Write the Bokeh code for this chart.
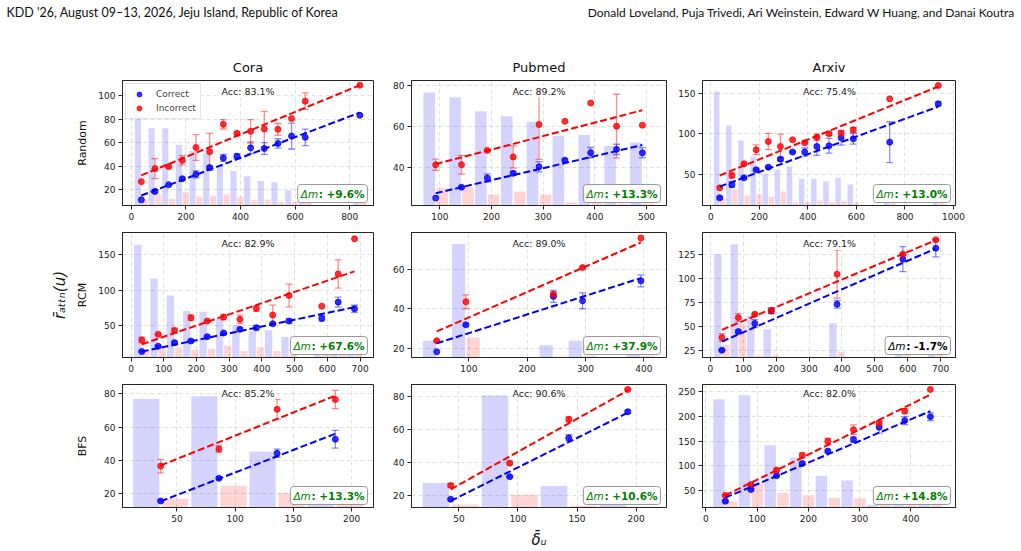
from bokeh.plotting import figure
from bokeh.layouts import column, row
from bokeh.models import Range1d, FixedTicker, Label, Legend, LegendItem, LinearAxis
from bokeh.embed import file_html
from bokeh.resources import INLINE

FONT = "DejaVu Sans"
HEAD_FONT = "Lato"
BIN_W = 50

HEADER_LEFT = "KDD '26, August 09\u201313, 2026, Jeju Island, Republic of Korea"
HEADER_RIGHT = "Donald Loveland, Puja Trivedi, Ari Weinstein, Edward W Huang, and Danai Koutra"
DATASETS = ["Cora", "Pubmed", "Arxiv"]
ORDERINGS = ["Random", "RCM", "BFS"]

# ---------------- Random ordering ----------------
cora_rand_bins = [37, 87, 137, 187, 237, 287, 337, 387, 437, 487, 537, 587, 637, 837]
cora_rand_corr = [11.4, 18.6, 24.3, 29.4, 33.1, 38.9, 47.1, 48.6, 55.7, 55.1, 59.4, 65.7, 64.6, 83.4]
cora_rand_corr_err = [0, 1.5, 0, 1, 3, 1, 3, 2, 5, 5, 4, 11, 7, 0]
cora_rand_inc = [26.9, 38.0, 39.7, 45.1, 56.0, 52.3, 75.7, 68.0, 69.7, 71.7, 71.4, 80.6, 95.4, 109.0]
cora_rand_inc_err = [0, 8.5, 1, 4, 11, 15.7, 4, 1, 10, 15, 5, 0, 7, 0]
cora_rand_corr_hist = [104, 72.3, 72.3, 58, 53, 51, 41, 36, 31.4, 27.4, 26.3, 19.4, 13, 9]
cora_rand_inc_hist = [12, 16, 12.5, 18, 14, 15, 16, 14, 11, 11.5, 10, 10, 9, 9]
cora_rand_corr_fit = [15.1, 85.7]
cora_rand_inc_fit = [32.3, 109.0]
cora_rand_acc = "83.1%"
cora_rand_dm = "+9.6%"
cora_rand_xticks = [0, 200, 400, 600, 800]
cora_rand_yticks = [20, 40, 60, 80, 100]

pubmed_rand_bins = [92, 142, 192, 242, 292, 342, 392, 442, 492]
pubmed_rand_corr = [25.2, 30.5, 35.0, 37.3, 40.5, 43.7, 47.4, 49.0, 47.3]
pubmed_rand_corr_err = [0, 0.5, 2, 1, 2.5, 0.8, 2.5, 2.5, 2.5]
pubmed_rand_inc = [41.5, 41.5, 48.5, 45.3, 61.1, 62.7, 71.6, 60.3, 60.8]
pubmed_rand_inc_err = [2.7, 4.6, 0.5, 5.4, 17, 0, 0, 15.6, 0]
pubmed_rand_corr_hist = [76.8, 74.4, 67.6, 65.2, 62.3, 55.5, 56.0, 50.6, 52.3]
pubmed_rand_inc_hist = [30.0, 30.5, 27.0, 28.4, 27.0, 23.2, 22.7, 22.4, 22.4]
pubmed_rand_corr_fit = [27.6, 51.1]
pubmed_rand_inc_fit = [41.8, 68.1]
pubmed_rand_acc = "89.2%"
pubmed_rand_dm = "+13.3%"
pubmed_rand_xticks = [100, 200, 300, 400, 500]
pubmed_rand_yticks = [40, 60, 80]

arxiv_rand_bins = [37, 87, 137, 187, 237, 287, 337, 387, 437, 487, 537, 587, 737, 937]
arxiv_rand_corr = [21.8, 37.8, 46.3, 56.1, 59.4, 69.2, 77.8, 77.8, 84.7, 85.5, 95.3, 94.1, 90.0, 136.9]
arxiv_rand_corr_err = [1.5, 3, 1, 1, 1, 2, 1, 5, 11, 9, 9, 6.5, 25, 2]
arxiv_rand_inc = [34.0, 49.2, 63.5, 80.6, 90.8, 84.7, 92.9, 89.2, 96.1, 100.2, 101.0, 105.1, 143.0, 159.4]
arxiv_rand_inc_err = [0, 3, 1, 6, 10, 15, 0, 1, 4, 2, 2, 3, 0, 0]
arxiv_rand_corr_hist = [152, 110.4, 92, 72.4, 51.2, 56.5, 60.2, 45.1, 45.1, 42.2, 46.3, 38.2, 16.5, 18.6]
arxiv_rand_inc_hist = [20.6, 32, 24.7, 26, 22.7, 29.6, 16.5, 16.5, 18.6, 16.5, 17.8, 16.5, 15.3, 15.3]
arxiv_rand_corr_fit = [35.7, 133.5]
arxiv_rand_inc_fit = [49.2, 158.2]
arxiv_rand_acc = "75.4%"
arxiv_rand_dm = "+13.0%"
arxiv_rand_xticks = [0, 200, 400, 600, 800, 1000]
arxiv_rand_yticks = [50, 100, 150]

# ---------------- RCM ordering ----------------
cora_rcm_bins = [33, 83, 133, 183, 233, 283, 333, 383, 433, 483, 583, 633, 683]
cora_rcm_corr = [13, 20.4, 25.6, 27.9, 34, 39.2, 44.4, 46.7, 52.3, 56.1, 59.9, 82.9, 73.5]
cora_rcm_corr_err = [1, 1, 1.5, 1, 1, 1, 2, 3, 1, 3, 4, 7, 5]
cora_rcm_inc = [29.3, 37.3, 42.9, 60.8, 56.1, 61.7, 58.5, 73.9, 64.6, 92.3, 77.2, 122.8, 172.5]
cora_rcm_inc_err = [4, 1, 3, 4, 1, 4, 6, 4, 14, 16, 0, 20, 0]
cora_rcm_corr_hist = [164, 116.2, 92.3, 70.2, 69.2, 59.9, 50.5, 42, 43, 33.6, 16.2, 13.8, 13.8]
cora_rcm_inc_hist = [13.8, 17, 18.5, 15.3, 16.7, 21, 13.8, 18.5, 13.8, 9.2, 9, 9, 9]
cora_rcm_corr_fit = [12.9, 75.8]
cora_rcm_inc_fit = [23.2, 126.5]
cora_rcm_acc = "82.9%"
cora_rcm_dm = "+67.6%"
cora_rcm_xticks = [0, 100, 200, 300, 400, 500, 600, 700]
cora_rcm_yticks = [50, 100, 150]

pubmed_rcm_bins = [45, 95, 245, 295, 395]
pubmed_rcm_corr = [18.5, 32, 46.3, 44.1, 54.1]
pubmed_rcm_corr_err = [0, 0.5, 3, 4, 3]
pubmed_rcm_inc = [24, 43.6, 47.4, 60.8, 75.6]
pubmed_rcm_inc_err = [0.5, 3.5, 1, 0.5, 0]
pubmed_rcm_corr_hist = [24, 72.6, 21.8, 24, 18]
pubmed_rcm_inc_hist = [16, 25.7, 16, 16.5, 16.5]
pubmed_rcm_corr_fit = [22.7, 55.5]
pubmed_rcm_inc_fit = [28.7, 73.4]
pubmed_rcm_acc = "89.0%"
pubmed_rcm_dm = "+37.9%"
pubmed_rcm_xticks = [100, 200, 300, 400]
pubmed_rcm_yticks = [20, 40, 60]

arxiv_rcm_bins = [35, 85, 135, 185, 385, 585, 685]
arxiv_rcm_corr = [25, 44.4, 52.8, 66, 72.9, 119.8, 131.3]
arxiv_rcm_corr_err = [1, 1.5, 4, 3, 4, 13, 9]
arxiv_rcm_inc = [38.2, 59, 62.5, 66, 104.2, 125, 140]
arxiv_rcm_inc_err = [4, 4, 1, 3, 25, 1, 1]
arxiv_rcm_corr_hist = [125, 135.4, 60.8, 46.9, 53.1, 20.8, 20.8]
arxiv_rcm_inc_hist = [30.6, 52.8, 19.8, 19.8, 23.3, 19.8, 19.8]
arxiv_rcm_corr_fit = [34.0, 130.9]
arxiv_rcm_inc_fit = [46.2, 139.6]
arxiv_rcm_acc = "79.1%"
arxiv_rcm_dm = "-1.7%"
arxiv_rcm_xticks = [0, 100, 200, 300, 400, 500, 600, 700]
arxiv_rcm_yticks = [25, 50, 75, 100, 125]

# ---------------- BFS ordering ----------------
cora_bfs_bins = [36, 86, 136, 186]
cora_bfs_corr = [15.7, 29.3, 44.3, 52.7]
cora_bfs_corr_err = [0.5, 0.5, 2.5, 5.3]
cora_bfs_inc = [36.6, 46.9, 70.6, 76.5]
cora_bfs_inc_err = [4, 2, 6, 5.5]
cora_bfs_corr_hist = [76.9, 78.4, 45.3, 24]
cora_bfs_inc_hist = [17.1, 24.9, 20.6, 16]
cora_bfs_corr_fit = [15.5, 56.0]
cora_bfs_inc_fit = [37.0, 78.8]
cora_bfs_acc = "85.2%"
cora_bfs_dm = "+13.3%"
cora_bfs_xticks = [50, 100, 150, 200]
cora_bfs_yticks = [20, 40, 60, 80]

pubmed_bfs_bins = [43, 93, 143, 193]
pubmed_bfs_corr = [17.8, 31.5, 55, 70.9]
pubmed_bfs_corr_err = [0.5, 0.5, 2, 1]
pubmed_bfs_inc = [26.2, 39.7, 66.3, 84.4]
pubmed_bfs_inc_err = [1, 1, 1.5, 0.5]
pubmed_bfs_corr_hist = [27.7, 80.8, 25.8, 19]
pubmed_bfs_inc_hist = [14.6, 20.6, 13.8, 13.2]
pubmed_bfs_corr_fit = [16.8, 70.3]
pubmed_bfs_inc_fit = [23.8, 83.8]
pubmed_bfs_acc = "90.6%"
pubmed_bfs_dm = "+10.6%"
pubmed_bfs_xticks = [50, 100, 150, 200]
pubmed_bfs_yticks = [20, 40, 60, 80]

arxiv_bfs_bins = [38, 88, 138, 188, 238, 288, 338, 388, 438]
arxiv_bfs_corr = [28.9, 52.6, 80.4, 104.8, 129.9, 153, 178, 191.3, 199.2]
arxiv_bfs_corr_err = [2, 2, 2, 3, 3, 5, 12, 8, 8]
arxiv_bfs_inc = [40.8, 62.5, 91.6, 121.3, 149.7, 172.8, 186, 210.4, 254]
arxiv_bfs_inc_err = [1, 2, 4, 5, 6, 10, 5, 5, 0]
arxiv_bfs_corr_hist = [234.2, 242.1, 141.8, 116.7, 80.4, 70.5, 22, 22, 22]
arxiv_bfs_inc_hist = [28.9, 63.9, 46, 40.8, 36.1, 34.2, 24.3, 24.3, 24.3]
arxiv_bfs_corr_fit = [36.1, 210.4]
arxiv_bfs_inc_fit = [40.8, 243.4]
arxiv_bfs_acc = "82.0%"
arxiv_bfs_dm = "+14.8%"
arxiv_bfs_xticks = [0, 100, 200, 300, 400]
arxiv_bfs_yticks = [50, 100, 150, 200, 250]

# axis limits of each panel: (x_start, x_end, y_start, y_end)
LIMITS = [
    [(-32, 887, 6.6, 113), (45.2, 538.7, 21.6, 82.6), (-34, 1008, 12.4, 165.5)],
    [(-26, 741, 4.5, 181.5), (1.7, 438.9, 15.6, 78.4), (-24, 745, 17.4, 147.6)],
    [(3.2, 218.8, 11.8, 85.5), (9.8, 225.8, 12.8, 87.4), (-6.5, 487, 16.3, 263.9)],
]


def bundle(prefix):
    g = globals()
    keys = ["bins", "corr", "corr_err", "inc", "inc_err", "corr_hist", "inc_hist",
            "corr_fit", "inc_fit", "acc", "dm", "xticks", "yticks"]
    return {k: g[f"{prefix}_{k}"] for k in keys}


GRID = [[bundle(f"{ds}_{od}") for ds in ("cora", "pubmed", "arxiv")]
        for od in ("rand", "rcm", "bfs")]

# page geometry (pixels)
COL_W = [385, 290, 346]
COL_BL = [122, 26, 26]
COL_BR = [12, 9, 66]
HEAD_H = 45
ROW_H = [184, 152, 170]
ROW_BT = [35, 3, 3]
ROW_BB = [24, 24, 42]
YLABEL_STANDOFF = [6, 6, 12]

BLUE = "#0000ff"
RED = "#ff0000"

# DejaVu Sans Bold advance widths (em) used to size the "Δm" box
BOLD_EM = {":": 0.400, " ": 0.348, "+": 0.838, "-": 0.416, ".": 0.381, "%": 1.002}
DM_SIZE = 10.5
DM_PREFIX_EM = 0.684 + 0.974
PAD = 3


def bold_width(text):
    return DM_SIZE * sum(BOLD_EM.get(ch, 0.696) for ch in text)


def error_bars(p, xs, ys, errs, color):
    sel = [i for i, e in enumerate(errs) if e > 0]
    if not sel:
        return
    bx = [xs[i] for i in sel]
    lo = [ys[i] - errs[i] for i in sel]
    hi = [ys[i] + errs[i] for i in sel]
    p.segment(x0=bx, y0=lo, x1=bx, y1=hi, line_color=color, line_alpha=0.45, line_width=1.3)
    for cap in (lo, hi):
        p.scatter(x=bx, y=cap, marker="dash", size=7, line_color=color, line_alpha=0.45,
                  line_width=1.3)


def delta_box(p, fw, dm):
    """Rounded box in the lower right: italic 'Δm' followed by the bold value."""
    color = "green" if dm.startswith("+") else "black"
    tail = f": {dm}"
    head_w = round(DM_SIZE * DM_PREFIX_EM)
    pad_left = PAD + head_w + 1
    box_right = fw - 6
    box_left = box_right - pad_left - bold_width(tail) - PAD
    bottom = 3
    p.add_layout(Label(x=box_left, y=bottom, x_units="screen", y_units="screen",
                       text=tail, text_align="left", text_baseline="bottom",
                       text_font=FONT, text_font_size=f"{DM_SIZE}px", text_font_style="bold",
                       text_color=color,
                       background_fill_color="white", background_fill_alpha=0.9,
                       border_line_color="#999999", border_line_width=1, border_radius=3,
                       padding=dict(left=pad_left, right=PAD, top=PAD, bottom=PAD)))
    p.add_layout(Label(x=box_left + PAD, y=bottom + PAD, x_units="screen", y_units="screen",
                       text="\u0394m", text_align="left", text_baseline="bottom",
                       text_font=FONT, text_font_size=f"{DM_SIZE}px", text_font_style="italic",
                       text_color=color))


def panel(d, r, c):
    x0, x1, y0, y1 = LIMITS[r][c]
    p = figure(width=COL_W[c], height=ROW_H[r], output_backend="svg", toolbar_location=None,
               x_range=Range1d(x0, x1), y_range=Range1d(y0, y1),
               min_border_left=COL_BL[c], min_border_right=COL_BR[c],
               min_border_top=ROW_BT[r], min_border_bottom=ROW_BB[r])
    fw = COL_W[c] - COL_BL[c] - COL_BR[c]
    fh = ROW_H[r] - ROW_BT[r] - ROW_BB[r]
    p.background_fill_color = "white"
    p.border_fill_color = "white"
    p.outline_line_color = "#262626"
    p.outline_line_width = 1

    p.xaxis.ticker = FixedTicker(ticks=d["xticks"])
    p.yaxis.ticker = FixedTicker(ticks=d["yticks"])
    p.xgrid.ticker = FixedTicker(ticks=d["xticks"])
    p.ygrid.ticker = FixedTicker(ticks=d["yticks"])
    for ax in p.axis:
        ax.major_label_text_font = FONT
        ax.major_label_text_font_size = "9px"
        ax.major_label_text_color = "#222222"
        ax.major_tick_out = 4
        ax.major_tick_in = 0
        ax.major_label_standoff = 3
        ax.minor_tick_line_color = None
        ax.axis_line_color = "#262626"
        ax.major_tick_line_color = "#262626"
    for g in p.grid:
        g.grid_line_color = "#b8b8b8"
        g.grid_line_alpha = 0.55
        g.grid_line_dash = "4 3"
        g.grid_line_width = 0.8

    bins = d["bins"]
    # histogram bars: correct on the left half of each bin, incorrect on the right half
    p.vbar(x=[b - BIN_W / 4 for b in bins], width=0.45 * BIN_W, top=d["corr_hist"], bottom=0,
           fill_color=BLUE, fill_alpha=0.17, line_color=None)
    p.vbar(x=[b + BIN_W / 4 for b in bins], width=0.45 * BIN_W, top=d["inc_hist"], bottom=0,
           fill_color=RED, fill_alpha=0.17, line_color=None)

    error_bars(p, bins, d["corr"], d["corr_err"], BLUE)
    error_bars(p, bins, d["inc"], d["inc_err"], RED)
    sc = p.scatter(bins, d["corr"], size=6, fill_color=BLUE, line_color=BLUE, alpha=0.8)
    si = p.scatter(bins, d["inc"], size=6, fill_color=RED, line_color=RED, alpha=0.8)

    ends = [bins[0], bins[-1]]
    p.line(ends, d["corr_fit"], line_color=BLUE, line_width=2, line_dash="7 3")
    p.line(ends, d["inc_fit"], line_color=RED, line_width=2, line_dash="7 3")

    p.add_layout(Label(x=fw / 2, y=fh - 11, x_units="screen", y_units="screen",
                       text=f"Acc: {d['acc']}", text_align="center", text_baseline="middle",
                       text_font=FONT, text_font_size="9.5px", text_color="#222222",
                       background_fill_color="white", background_fill_alpha=0.8, padding=1))
    delta_box(p, fw, d["dm"])

    if r == 0:
        p.title.text = DATASETS[c]
        p.title.align = "center"
        p.title.text_font = FONT
        p.title.text_font_size = "13px"
        p.title.text_font_style = "normal"
        p.title.text_color = "#111111"
        p.title.standoff = 12
    if c == 0:
        p.yaxis.axis_label = ORDERINGS[r]
        p.yaxis.axis_label_text_font = FONT
        p.yaxis.axis_label_text_font_size = "11px"
        p.yaxis.axis_label_text_font_style = "normal"
        p.yaxis.axis_label_text_color = "#111111"
        p.yaxis.axis_label_standoff = YLABEL_STANDOFF[r]
    if r == 1 and c == 0:
        outer = LinearAxis(ticker=FixedTicker(ticks=[]), axis_line_color=None,
                           major_tick_line_color=None, minor_tick_line_color=None,
                           major_tick_out=0, major_label_standoff=0,
                           axis_label="r\u0304\u2090\u209c\u209c\u2099(u)",
                           axis_label_text_font=FONT, axis_label_text_font_size="15px",
                           axis_label_text_font_style="italic",
                           axis_label_text_color="#111111", axis_label_standoff=5)
        p.add_layout(outer, "left")
    if r == 2 and c == 1:
        p.xaxis.axis_label = "\u03b4\u0304\u1d64"
        p.xaxis.axis_label_text_font = FONT
        p.xaxis.axis_label_text_font_size = "15px"
        p.xaxis.axis_label_text_font_style = "italic"
        p.xaxis.axis_label_text_color = "#111111"
        p.xaxis.axis_label_standoff = 6
    if r == 0 and c == 0:
        legend = Legend(items=[LegendItem(label="Correct", renderers=[sc]),
                               LegendItem(label="Incorrect", renderers=[si])],
                        location="top_left", label_text_font=FONT,
                        label_text_font_size="9px", glyph_height=12, glyph_width=18,
                        label_height=12, spacing=2, padding=4, margin=3, label_standoff=8,
                        border_line_color="#cccccc", background_fill_alpha=0.85)
        p.add_layout(legend)
    return p


header = figure(width=1021, height=HEAD_H, output_backend="svg", toolbar_location=None,
                x_range=Range1d(0, 1021), y_range=Range1d(0, HEAD_H),
                x_axis_location=None, y_axis_location=None, min_border=0)
header.grid.visible = False
header.outline_line_color = None
header.add_layout(Label(x=6, y=HEAD_H - 12, x_units="screen", y_units="screen",
                        text=HEADER_LEFT, text_align="left", text_baseline="middle",
                        text_font=HEAD_FONT, text_font_size="12.5px", text_color="#111111"))
header.add_layout(Label(x=1015, y=HEAD_H - 12, x_units="screen", y_units="screen",
                        text=HEADER_RIGHT, text_align="right", text_baseline="middle",
                        text_font=HEAD_FONT, text_font_size="12px", text_color="#111111"))

rows = [row(*[panel(GRID[r][c], r, c) for c in range(3)]) for r in range(3)]
page = column(header, *rows)

open("out.html", "w").write(file_html(page, INLINE))
